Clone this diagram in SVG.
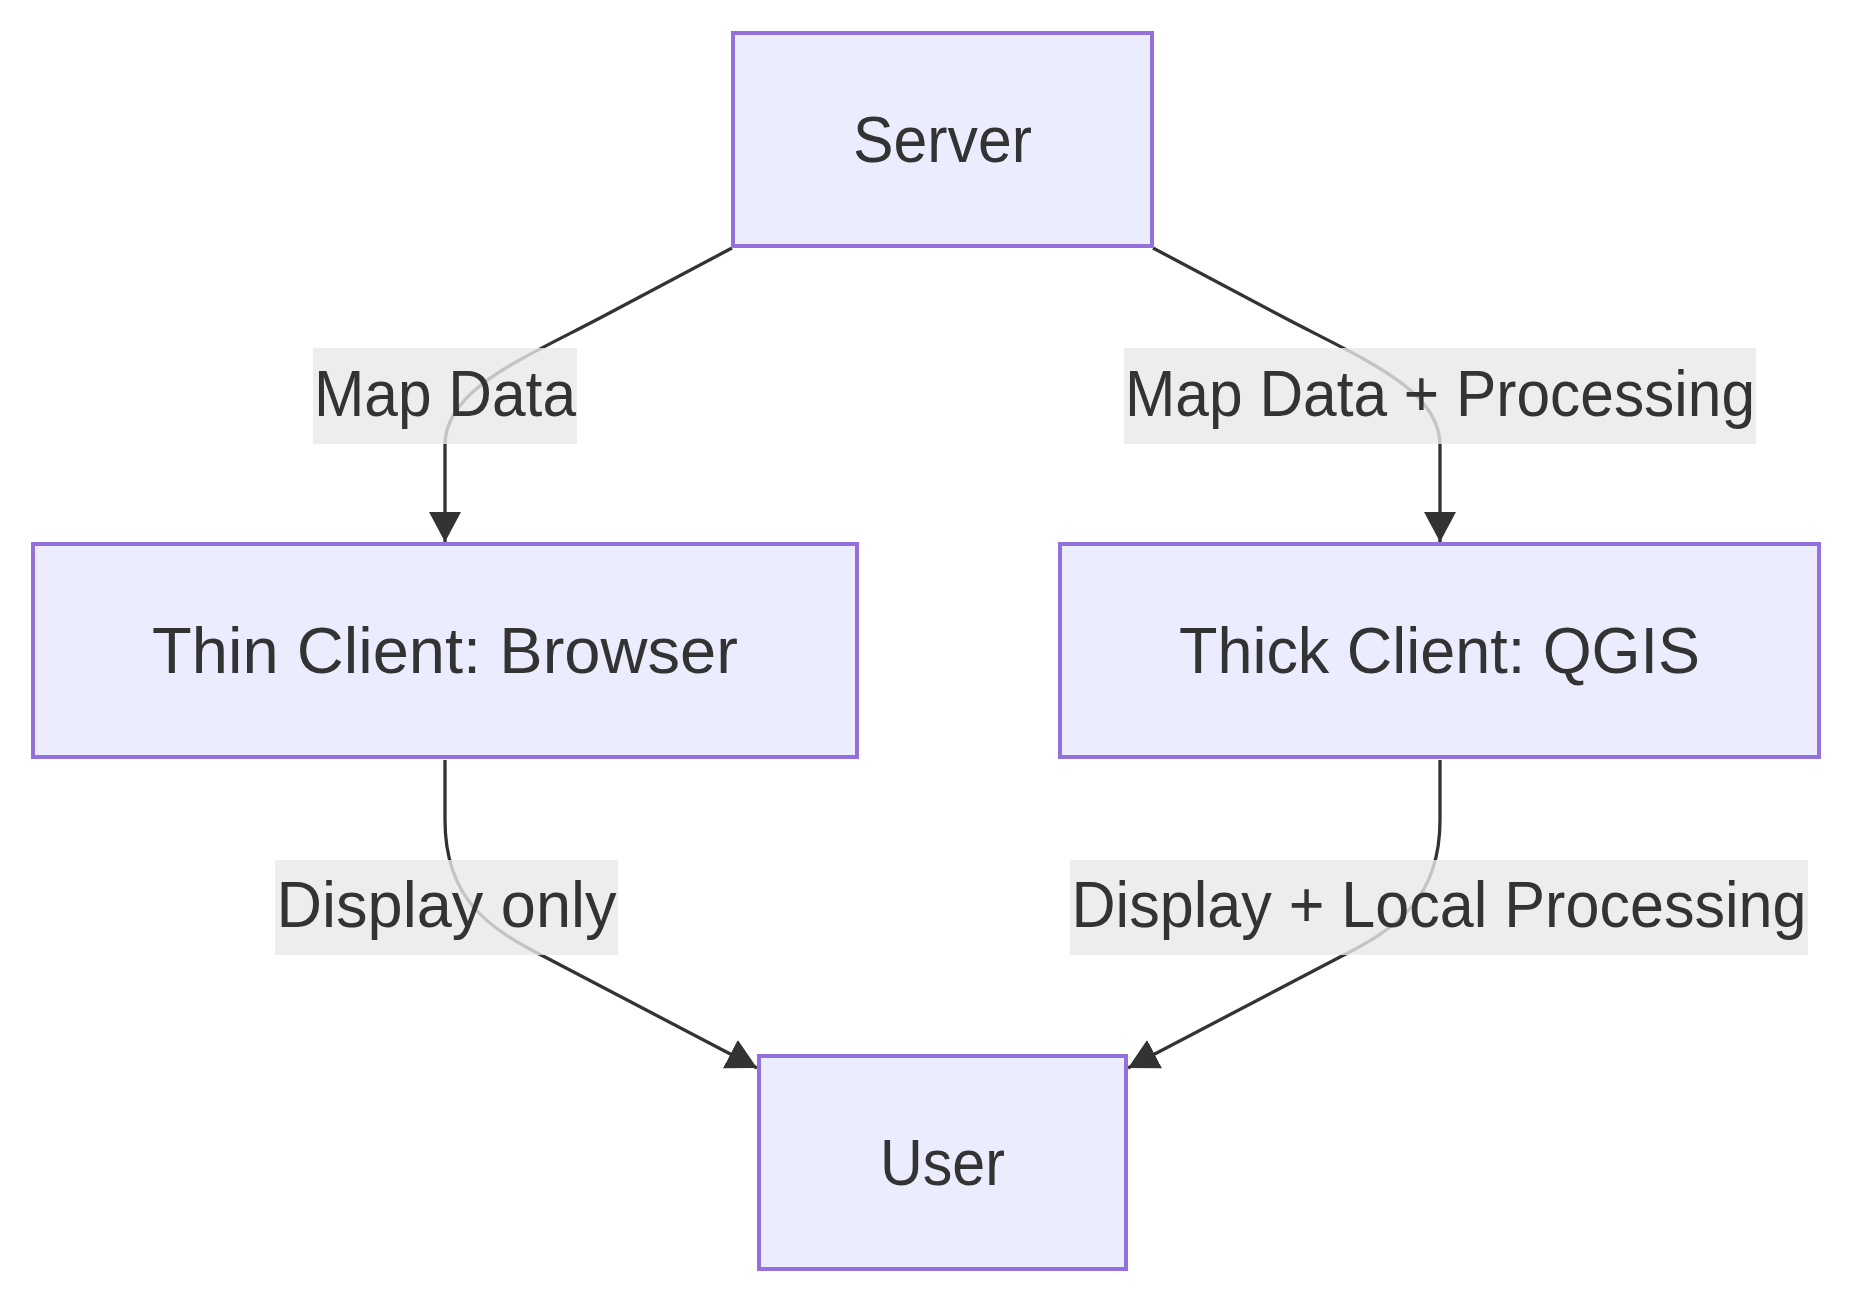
<svg xmlns="http://www.w3.org/2000/svg" width="1852" height="1304" viewBox="0 0 1852 1304">
<style>
.node rect{fill:#ECECFF;stroke:#9370DB;stroke-width:4}
.node text,.lbl text{font-family:"Liberation Sans",Arial,sans-serif;font-size:64px;fill:#333333;text-anchor:middle}
.edge{fill:none;stroke:#333333;stroke-width:3.3}
.lbl rect{fill:rgba(232,232,232,0.8)}
</style>
<defs>
<marker id="arrow" viewBox="0 0 30 32" refX="30" refY="16" markerWidth="30" markerHeight="32" markerUnits="userSpaceOnUse" orient="auto">
<path d="M0,0 L30,16 L0,32 z" fill="#333333"/>
</marker>
</defs>
<rect width="1852" height="1304" fill="#ffffff"/>
<g id="connectors">
<path class="edge" d="M732,248 L600,318 C520,360 445,390 445,445 L445,542" marker-end="url(#arrow)"/>
<path class="edge" d="M1153,248 L1285,318 C1365,360 1440,390 1440,445 L1440,542" marker-end="url(#arrow)"/>
<path class="edge" d="M445,760 L445,820 C445,900 490,929 545,957 L757,1068" marker-end="url(#arrow)"/>
<path class="edge" d="M1440,760 L1440,820 C1440,900 1395,929 1340,957 L1128,1068" marker-end="url(#arrow)"/>
</g>
<g id="edge-labels">
<g class="lbl" id="label-map-data"><rect x="313" y="348" width="264" height="96"/><text x="445" y="416" textLength="262" lengthAdjust="spacingAndGlyphs">Map Data</text></g>
<g class="lbl" id="label-map-data-processing"><rect x="1124" y="348" width="632" height="96"/><text x="1440" y="416" textLength="630" lengthAdjust="spacingAndGlyphs">Map Data + Processing</text></g>
<g class="lbl" id="label-display-only"><rect x="275" y="860" width="343" height="95"/><text x="446.5" y="927" textLength="340" lengthAdjust="spacingAndGlyphs">Display only</text></g>
<g class="lbl" id="label-display-local"><rect x="1070" y="860" width="738" height="95"/><text x="1439" y="927" textLength="735" lengthAdjust="spacingAndGlyphs">Display + Local Processing</text></g>
</g>
<g id="node-server" class="node"><rect x="733" y="33" width="419" height="213"/><text x="942.5" y="162" textLength="179" lengthAdjust="spacingAndGlyphs">Server</text></g>
<g id="node-thin" class="node"><rect x="33" y="544" width="824" height="213"/><text x="445" y="673" textLength="586" lengthAdjust="spacingAndGlyphs">Thin Client: Browser</text></g>
<g id="node-thick" class="node"><rect x="1060" y="544" width="759" height="213"/><text x="1439.5" y="673" textLength="521" lengthAdjust="spacingAndGlyphs">Thick Client: QGIS</text></g>
<g id="node-user" class="node"><rect x="759" y="1056" width="367" height="213"/><text x="942.5" y="1185" textLength="125" lengthAdjust="spacingAndGlyphs">User</text></g>
</svg>
